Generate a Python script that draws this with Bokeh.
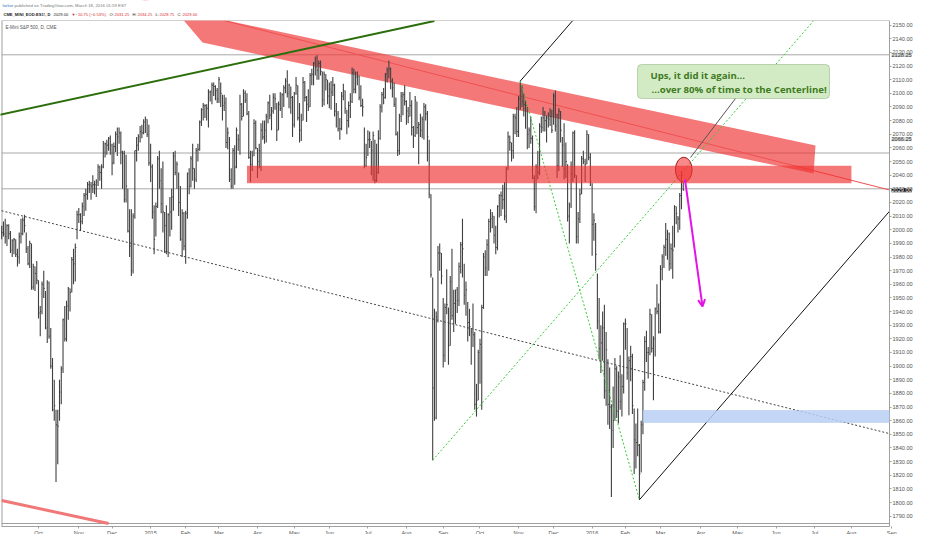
import numpy as np
import pandas as pd
from bokeh.plotting import figure
from bokeh.models import (Range1d, FixedTicker, PrintfTickFormatter, Label, BoxAnnotation,
                          Arrow, OpenHead, ColumnDataSource, LinearAxis)
from bokeh.embed import file_html
from bokeh.resources import INLINE

# ---------------- data (E-mini S&P 500 continuous, daily) ----------------
highs = [
    2003, 2006, 2008, 2004, 2004, 1999, 1993, 1994, 1993, 1986, 1998, 2008, 2009, 2011, 1998, 1988, 1992, 1990, 1975, 1973, 1977,
    1963, 1944, 1962, 1970, 1955, 1963, 1962, 1928, 1906, 1890, 1868, 1868, 1890, 1900, 1935, 1944, 1948, 1958, 1957, 1980, 1986, 1990, 2014,
    2016, 2012, 2020, 2027, 2030, 2035, 2036, 2035, 2040, 2036, 2037, 2048, 2047, 2048, 2065, 2064, 2066, 2068, 2069,
    2063, 2064, 2072, 2075, 2075, 2072, 2058, 2058, 2055, 2030, 2015, 2015, 2012, 2058, 2068, 2070, 2076, 2077, 2081, 2083, 2081, 2077,
    2063, 2048, 2018, 2020, 2054, 2058, 2045, 2050, 2013, 2018, 2012, 2024, 2030, 2057, 2058, 2050, 2042, 2032, 2015, 2013,
    2014, 2042, 2045, 2054, 2063, 2045, 2060, 2063, 2080, 2089, 2093, 2092, 2092, 2103, 2102, 2108, 2108, 2106, 2104,
    2112, 2108, 2099, 2099, 2097, 2075, 2068, 2045, 2060, 2062, 2075, 2070, 2099, 2093, 2103, 2102, 2100, 2087, 2058, 2058, 2081, 2080,
    2060, 2063, 2078, 2080, 2080, 2085, 2094, 2099, 2090, 2100, 2100, 2093, 2094, 2101, 2100, 2106, 2111, 2117, 2107, 2105, 2098,
    2101, 2112, 2106, 2093, 2085, 2112, 2109, 2098, 2103, 2115, 2118, 2123, 2127, 2128, 2124, 2124, 2116, 2116, 2114, 2110,
    2108, 2109, 2112, 2107, 2093, 2087, 2082, 2101, 2107, 2102, 2088, 2094, 2100, 2119, 2118, 2116, 2116, 2113, 2106, 2096, 2075, 2063,
    2073, 2072, 2065, 2072, 2066, 2063, 2073, 2092, 2101, 2104, 2115, 2119, 2124, 2119, 2111, 2108, 2097, 2072, 2085, 2101, 2101, 2106,
    2095, 2090, 2101, 2095, 2076, 2098, 2094, 2079, 2085, 2083, 2093, 2092, 2087, 2066, 2026, 1965, 1942, 1940, 1988, 1990, 1983,
    1950, 1946, 1971, 1943, 1966, 1986, 1956, 1956, 1958, 1976, 1991, 2008, 1975, 1962, 1947, 1942, 1928, 1946, 1925, 1887, 1912,
    1920, 1945, 1983, 1985, 1993, 2008, 2015, 2013, 2010, 2003, 2018, 2026, 2028, 2033, 2035, 2046, 2072, 2069, 2064, 2085, 2085, 2090,
    2098, 2109, 2106, 2100, 2095, 2090, 2075, 2083, 2069, 2040, 2048, 2058, 2078, 2083, 2090, 2087, 2084, 2086, 2089, 2088,
    2100, 2102, 2085, 2089, 2087, 2068, 2078, 2064, 2048, 2020, 2050, 2072, 2073, 2040, 2013, 2030, 2054, 2058, 2052, 2073, 2070, 2056,
    2034, 2012, 2005, 1968, 1950, 1930, 1940, 1945, 1925, 1905, 1899, 1872, 1885, 1906, 1900, 1896, 1908, 1894, 1932,
    1935, 1928, 1907, 1915, 1909, 1869, 1858, 1869, 1843, 1860, 1890, 1922, 1926, 1914, 1942, 1938, 1922, 1943, 1960, 1946,
    1974, 1982, 1989, 2005, 2000, 1998, 1990, 2003, 2018, 2017, 2010, 2027, 2043, 2034.25,
]
lows = [
    1993, 1995, 1990, 1988, 1993, 1983, 1980, 1982, 1980, 1973, 1975, 1990, 1996, 1998, 1983, 1974, 1972, 1956, 1956, 1955, 1960,
    1935, 1922, 1938, 1950, 1927, 1917, 1920, 1898, 1867, 1860, 1815, 1828, 1860, 1872, 1895, 1918, 1918, 1934, 1940, 1954, 1960, 1962, 1993,
    2005, 1999, 2004, 2010, 2014, 2022, 2027, 2022, 2027, 2026, 2024, 2032, 2036, 2030, 2045, 2053, 2055, 2058, 2055,
    2040, 2048, 2057, 2054, 2063, 2048, 2030, 2020, 2020, 1998, 1980, 1966, 1968, 2008, 2050, 2058, 2064, 2067, 2070, 2071, 2068, 2047,
    2035, 2008, 1982, 1995, 2016, 2030, 2012, 1998, 1983, 1982, 1980, 1995, 2000, 2014, 2040, 2030, 2010, 1992, 1980, 1985,
    1975, 2008, 2026, 2031, 2036, 2030, 2035, 2050, 2058, 2076, 2080, 2082, 2080, 2075, 2094, 2092, 2098, 2095, 2093,
    2093, 2090, 2080, 2087, 2060, 2059, 2035, 2030, 2030, 2033, 2045, 2058, 2055, 2080, 2083, 2093, 2084, 2052, 2035, 2043, 2054, 2059,
    2038, 2045, 2043, 2066, 2063, 2064, 2078, 2081, 2073, 2085, 2088, 2065, 2073, 2087, 2082, 2090, 2100, 2097, 2089, 2085, 2068,
    2075, 2099, 2080, 2064, 2065, 2080, 2094, 2079, 2087, 2090, 2106, 2106, 2113, 2110, 2110, 2113, 2090, 2091, 2102, 2092,
    2089, 2088, 2098, 2083, 2075, 2072, 2066, 2073, 2095, 2085, 2070, 2075, 2082, 2093, 2100, 2100, 2106, 2095, 2090, 2083, 2045, 2046,
    2054, 2060, 2040, 2036, 2034, 2035, 2041, 2066, 2086, 2092, 2096, 2108, 2111, 2103, 2097, 2090, 2069, 2054, 2055, 2079, 2084, 2091,
    2077, 2078, 2083, 2069, 2060, 2068, 2070, 2048, 2068, 2067, 2066, 2080, 2050, 2023, 1965, 1831, 1860, 1861, 1932, 1970, 1960,
    1899, 1903, 1938, 1901, 1915, 1934, 1925, 1931, 1939, 1944, 1968, 1965, 1945, 1937, 1918, 1922, 1901, 1914, 1868, 1863, 1875,
    1887, 1868, 1942, 1966, 1966, 1970, 1998, 2001, 1990, 1982, 1985, 2009, 2010, 2015, 2007, 2005, 2044, 2058, 2050, 2052, 2070, 2068,
    2068, 2088, 2090, 2083, 2074, 2059, 2060, 2063, 2037, 2014, 2012, 2037, 2040, 2071, 2072, 2072, 2064, 2075, 2076, 2071,
    2077, 2072, 2038, 2043, 2064, 2046, 2037, 2038, 2006, 1990, 2016, 2035, 2038, 1990, 1990, 2005, 2026, 2048, 2035, 2048, 2051, 2032,
    1981, 1992, 1970, 1927, 1905, 1895, 1904, 1876, 1871, 1857, 1854, 1804, 1840, 1860, 1862, 1858, 1868, 1863, 1880,
    1912, 1890, 1864, 1889, 1865, 1821, 1825, 1834, 1802, 1822, 1850, 1882, 1903, 1891, 1908, 1910, 1875, 1907, 1938, 1924,
    1924, 1963, 1972, 1981, 1978, 1970, 1971, 1964, 1987, 2004, 1998, 2000, 2015, 2028.75,
]
closes = [
    1998, 1997, 1995, 2003, 1997, 1985, 1992, 1993, 1982, 1980, 1995, 1997, 2007, 2003, 1986, 1975, 1990, 1958, 1973, 1968, 1963,
    1939, 1940, 1960, 1957, 1928, 1961, 1922, 1900, 1868, 1871, 1857, 1856, 1881, 1898, 1934, 1920, 1944, 1957, 1954, 1978, 1975, 1987, 2011,
    2011, 2006, 2017, 2025, 2026, 2033, 2033, 2032, 2033, 2033, 2035, 2046, 2042, 2046, 2057, 2063, 2062, 2067, 2062,
    2049, 2061, 2070, 2068, 2071, 2057, 2056, 2022, 2032, 1999, 1988, 1970, 2010, 2058, 2062, 2068, 2072, 2071, 2079, 2081, 2070, 2049,
    2046, 2013, 1993, 2017, 2052, 2036, 2019, 2013, 2003, 1984, 2011, 2013, 2024, 2054, 2042, 2048, 2020, 1993, 2012, 1988,
    2012, 2041, 2032, 2052, 2045, 2037, 2058, 2059, 2079, 2088, 2091, 2091, 2089, 2101, 2101, 2106, 2105, 2102, 2096,
    2110, 2100, 2091, 2093, 2064, 2071, 2037, 2032, 2058, 2046, 2073, 2066, 2092, 2083, 2100, 2095, 2085, 2053, 2048, 2054, 2078, 2060,
    2050, 2058, 2073, 2068, 2073, 2083, 2093, 2084, 2087, 2097, 2096, 2073, 2092, 2089, 2099, 2104, 2109, 2100, 2106, 2097, 2077,
    2100, 2106, 2082, 2073, 2080, 2108, 2097, 2092, 2090, 2113, 2114, 2122, 2119, 2117, 2122, 2116, 2095, 2114, 2110, 2098,
    2103, 2101, 2106, 2087, 2085, 2074, 2074, 2098, 2102, 2089, 2080, 2091, 2094, 2115, 2103, 2112, 2112, 2097, 2091, 2090, 2047, 2053,
    2066, 2066, 2058, 2069, 2036, 2042, 2067, 2090, 2099, 2097, 2114, 2117, 2118, 2109, 2104, 2092, 2070, 2058, 2083, 2098, 2099, 2094,
    2087, 2083, 2091, 2075, 2069, 2095, 2075, 2077, 2073, 2081, 2090, 2085, 2068, 2026, 1967, 1884, 1862, 1936, 1983, 1983, 1966,
    1908, 1943, 1945, 1915, 1962, 1937, 1946, 1956, 1948, 1973, 1989, 1986, 1952, 1956, 1932, 1929, 1925, 1923, 1872, 1875, 1910,
    1916, 1943, 1980, 1972, 1989, 2006, 2008, 2010, 1996, 1987, 2017, 2025, 2025, 2022, 2010, 2044, 2068, 2064, 2058, 2083, 2082, 2072,
    2096, 2102, 2094, 2092, 2091, 2070, 2073, 2067, 2038, 2017, 2046, 2042, 2076, 2075, 2082, 2080, 2082, 2081, 2083, 2073,
    2098, 2076, 2047, 2087, 2073, 2062, 2045, 2050, 2010, 2018, 2041, 2071, 2040, 1995, 2008, 2026, 2052, 2050, 2048, 2070, 2053, 2035,
    2004, 2007, 1982, 1933, 1913, 1917, 1928, 1882, 1912, 1872, 1870, 1853, 1860, 1898, 1867, 1892, 1874, 1885, 1931,
    1931, 1895, 1904, 1907, 1871, 1846, 1844, 1842, 1821, 1857, 1888, 1918, 1910, 1910, 1938, 1913, 1920, 1942, 1940, 1925,
    1971, 1980, 1987, 1993, 1997, 1975, 1986, 1985, 2017, 2012, 2008, 2025, 2039.75, 2029,
]
holidays = ["2014-11-27", "2014-12-25", "2015-01-01", "2015-01-19", "2015-02-16", "2015-04-03",
            "2015-05-25", "2015-07-03", "2015-09-07", "2015-11-26", "2015-12-25", "2016-01-01",
            "2016-01-18", "2016-02-15"]
month_labels = ["Oct", "Nov", "Dec", "2015", "Feb", "Mar", "Apr", "May", "Jun", "Jul", "Aug", "Sep",
                "Oct", "Nov", "Dec", "2016", "Feb", "Mar", "Apr", "May", "Jun", "Jul", "Aug", "Sep"]
price_ticks = list(range(1790, 2151, 10))
marked_prices = [2128.25, 2066.25]

# drawings: anchors as (date, price)
pitchfork_dates = ["2015-08-24", "2015-11-03", "2016-02-11"]
pitchfork_prices = [1831.0, 2109.0, 1802.0]
green_trend_dates = ["2014-09-02", "2015-08-25"]
green_trend_prices = [2084.5, 2153.1]
dotted_trend_dates = ["2014-09-02", "2016-08-22"]
dotted_trend_prices = [2013.9, 1852.7]
red_trend_dates = ["2015-05-15", "2015-11-23"]
red_trend_prices = [2137.0, 2093.5]
red_low_dates = ["2014-09-02", "2014-11-26"]
red_low_prices = [1801.5, 1784.6]
red_channel_idx = [98.6, 114.6, 463.4, 464.5]
red_channel_prices = [2161.5, 2137.3, 2041.2, 2061.8]
hband_dates = ["2015-03-24", "2016-08-01"]
hband_prices = [2047.0, 2034.0]
blue_zone_date = "2016-02-16"
blue_zone_prices = [1867.5, 1858.7]
hline_prices = [2128.25, 2056.25, 2030.0]
circle_date, circle_price = "2016-03-18", 2044.0
arrow_dates = ["2016-03-18", "2016-04-04"]
arrow_prices = [2037.0, 1943.7]

# ---------------- calendar / coordinates ----------------
days = pd.bdate_range("2014-09-02", "2016-10-31")
days = days[~days.isin(pd.to_datetime(holidays))]
pos = {d.strftime("%Y-%m-%d"): i for i, d in enumerate(days)}


def ix(s):
    return pos[s]


n = len(closes)
xb = np.arange(n)

# layout helpers (canvas pixels -> data)
X0, DX = 1.2, 1.752
P_TOP, PPP = 2153.4, 1.364


def sx(px):
    return (px - X0) / DX


def sy(py):
    return P_TOP - (py - 20) / PPP


W, H = 916, 534
AXIS_X = 889
XL, XR = -20, sx(AXIS_X)
BOTTOM = sy(526)
PANE_BOTTOM = sy(523)

p = figure(width=W, height=H, x_range=Range1d(sx(0), sx(W)), y_range=Range1d(sy(H), sy(0)),
           x_axis_location=None, y_axis_location=None, toolbar_location=None, output_backend="svg",
           min_border=0)
p.xgrid.visible = False
p.ygrid.visible = False
p.outline_line_color = None
p.background_fill_color = "white"
p.border_fill_color = "white"

yax = LinearAxis(fixed_location=XR, ticker=FixedTicker(ticks=price_ticks),
                 formatter=PrintfTickFormatter(format="%.2f"), bounds=(BOTTOM, P_TOP))
month_starts = pd.date_range("2014-10-01", periods=len(month_labels), freq="MS")
tick_idx = [int(np.searchsorted(days, m)) for m in month_starts]
xax = LinearAxis(fixed_location=BOTTOM, ticker=FixedTicker(ticks=tick_idx),
                 major_label_overrides={t: lab for t, lab in zip(tick_idx, month_labels)},
                 bounds=(sx(1), XR))
for ax in (xax, yax):
    ax.axis_line_color = "#a0a0a0"
    ax.major_tick_line_color = "#a0a0a0"
    ax.minor_tick_line_color = None
    ax.major_tick_in = 0
    ax.major_tick_out = 2
    ax.major_label_standoff = 1
    ax.major_label_text_color = "#555555"
    ax.major_label_text_font = "Liberation Sans"
    ax.major_label_text_font_size = "5.6px"
p.add_layout(yax, "right")
p.add_layout(xax, "below")

# frame lines
p.line([sx(1), XR], [P_TOP, P_TOP], line_color="#a0a0a0", line_width=1)
p.line([sx(1.5), sx(1.5)], [BOTTOM, P_TOP], line_color="#a0a0a0", line_width=1)
p.line([sx(1), XR], [PANE_BOTTOM, PANE_BOTTOM], line_color="#a0a0a0", line_width=1)


def line_at(dates_or_idx, prices, x):
    xa = [ix(d) if isinstance(d, str) else d for d in dates_or_idx]
    s = (prices[1] - prices[0]) / (xa[1] - xa[0])
    return prices[0] + s * (np.asarray(x, dtype=float) - xa[0])


# horizontal price lines
for hp in hline_prices:
    p.line([sx(1), XR], [hp, hp], line_color="#a8a8a8", line_width=1)

# blue zone
p.add_layout(BoxAnnotation(left=ix(blue_zone_date), right=XR, bottom=blue_zone_prices[1],
                           top=blue_zone_prices[0], fill_color="#b9cff3", fill_alpha=0.85,
                           line_color="#8eaee3", line_width=1))

# horizontal red band
p.add_layout(BoxAnnotation(left=ix(hband_dates[0]), right=ix(hband_dates[1]), bottom=hband_prices[1],
                           top=hband_prices[0], fill_color="#f03030", fill_alpha=0.65, line_color=None))

# rotated red band (clipped at chart top)
p.patch(red_channel_idx, red_channel_prices, fill_color="#f03030", fill_alpha=0.65, line_color=None)
p.add_layout(BoxAnnotation(left=sx(0), right=sx(W), bottom=P_TOP, top=sy(0) + 5, fill_color="white",
                           fill_alpha=1.0, line_color=None))

# thin red trend
p.line([XL, XR], list(line_at(red_trend_dates, red_trend_prices, [XL, XR])), line_color="#f05050", line_width=1)

# lower-left red line
p.line([ix(d) for d in red_low_dates], red_low_prices, line_color="#f07878", line_width=3)

# green trend (clipped at chart top)
g_end = ix(green_trend_dates[1])
p.line([XL, g_end], list(line_at(green_trend_dates, green_trend_prices, [XL, g_end])),
       line_color="#2c6e0c", line_width=2)

# dotted trend
p.line([XL, XR], list(line_at(dotted_trend_dates, dotted_trend_prices, [XL, XR])), line_color="#444444",
       line_width=1, line_dash="2 2")

# OHLC bars
src = ColumnDataSource(dict(x=xb, xr=xb + 0.6, high=highs, low=lows, close=closes))
p.segment(x0="x", y0="low", x1="x", y1="high", source=src, line_color="#404040", line_width=1.1)
p.segment(x0="x", y0="close", x1="xr", y1="close", source=src, line_color="#404040", line_width=1)

# Andrews pitchfork
ia, ib, ic = [ix(d) for d in pitchfork_dates]
pa, pb, pc = pitchfork_prices
mi, mp = (ib + ic) / 2, (pb + pc) / 2
slope = (mp - pa) / (mi - ia)


def ray(i0, p0, x_end):
    return [i0, x_end], [p0, p0 + slope * (x_end - i0)]


def x_at_price(i0, p0, price):
    return i0 + (price - p0) / slope


xm, ym = ray(ia, pa, min(XR, x_at_price(ia, pa, P_TOP)))
p.line(xm, ym, line_color="#33cc33", line_width=1, line_dash="2 2")
p.line([ib, ic], [pb, pc], line_color="#33cc33", line_width=1, line_dash="2 2")
xu, yu = ray(ib, pb, min(XR, x_at_price(ib, pb, P_TOP)))
p.line(xu, yu, line_color="#111111", line_width=1)
xl_, yl_ = ray(ic, pc, XR)
p.line(xl_, yl_, line_color="#111111", line_width=1)

# callout
box_l, box_r, box_t, box_b = sx(637), sx(829), sy(64), sy(98)
p.line([sx(735), sx(690)], [box_b, sy(157)], line_color="#555555", line_width=1)
p.add_layout(BoxAnnotation(left=box_l, right=box_r, top=box_t, bottom=box_b, fill_color="#d3ebc4",
                           fill_alpha=1.0, line_color="#4f7d3a", line_width=1, border_radius=4))
p.add_layout(Label(x=sx(650), y=sy(75), text="Ups, it did it again...", text_font="Open Sans",
                   text_font_style="bold", text_font_size="9.6px", text_color="#3d7a1e", text_baseline="middle"))
p.add_layout(Label(x=sx(651), y=sy(89), text="...over 80% of time to the Centerline!", text_font="Open Sans",
                   text_font_style="bold", text_font_size="9.6px", text_color="#3d7a1e", text_baseline="middle"))

# circle and arrow
p.ellipse(x=[ix(circle_date) + 0.3], y=[circle_price], width=9.5, height=18.3, fill_color="#f53b3b",
          fill_alpha=0.6, line_color="#9a1a1a", line_width=1)
p.add_layout(Arrow(end=OpenHead(size=7, line_color="#e414e4", line_width=2),
                   x_start=ix(arrow_dates[0]) + 1, y_start=arrow_prices[0],
                   x_end=ix(arrow_dates[1]), y_end=arrow_prices[1],
                   line_color="#e414e4", line_width=2))

# price scale marks
xl_lab = sx(AXIS_X + 2)
for mp_ in marked_prices:
    p.add_layout(Label(x=xl_lab, y=mp_, text=f"{mp_:.2f}", text_font="Liberation Sans", text_font_size="5.6px",
                       text_color="#333333", text_baseline="middle", background_fill_color="#d6d6d6"))
p.add_layout(Label(x=xl_lab, y=closes[-1], text=f"{closes[-1]:.2f}", text_font="Liberation Sans",
                   text_font_size="5.6px", text_color="white", text_baseline="middle",
                   background_fill_color="#111111"))

# chart title inside
p.add_layout(Label(x=sx(5), y=sy(27), text="E-Mini S&P 500, D, CME", text_font="Liberation Sans",
                   text_font_size="4.6px", text_color="#555555", text_baseline="middle"))

# header lines
hy1, hy2 = sy(5), sy(14)
p.add_layout(Label(x=sx(2), y=hy1, text="forker", text_font="Liberation Sans", text_font_size="4.3px",
                   text_color="#2f7ec1", text_baseline="middle"))
p.add_layout(Label(x=sx(14), y=hy1, text="published on TradingView.com, March 18, 2016 01:59 EST",
                   text_font="Liberation Sans", text_font_size="4.3px", text_color="#777777", text_baseline="middle"))
segs = [(3, "CME_MINI_EOD:ES1!, D", "#222222", "bold"), (53, "2029.00", "#222222", "normal"),
        (71, "\u25bc", "#d32f2f", "normal"), (75, "\u221210.75 (\u22120.53%)", "#d32f2f", "normal"),
        (109, "O:", "#222222", "normal"), (114, "2031.25", "#d32f2f", "normal"),
        (132, "H:", "#222222", "normal"), (137, "2034.25", "#d32f2f", "normal"),
        (155, "L:", "#222222", "normal"), (159, "2028.75", "#d32f2f", "normal"),
        (177, "C:", "#222222", "normal"), (182, "2029.00", "#d32f2f", "normal")]
for px_, t, c, st in segs:
    p.add_layout(Label(x=sx(px_), y=hy2, text=t, text_font="Liberation Sans", text_font_size="4.1px",
                       text_color=c, text_font_style=st, text_baseline="middle"))

open("out.html", "w").write(file_html(p, INLINE))
